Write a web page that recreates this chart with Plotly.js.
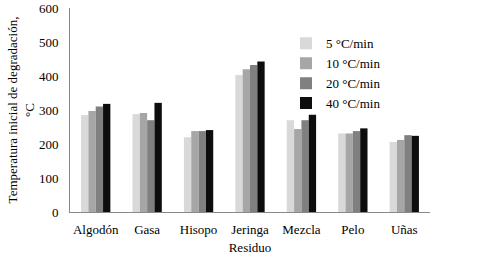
<!DOCTYPE html>
<html>
<head>
<meta charset="utf-8">
<script src="https://cdn.plot.ly/plotly-3.0.1.min.js"></script>
<style>html,body{margin:0;padding:0;background:#fff;}#chart{width:479px;height:257px;}</style>
</head>
<body>
<div id="chart"></div>
<script>
var categories = ["Algodón", "Gasa", "Hisopo", "Jeringa", "Mezcla", "Pelo", "Uñas"];
var seriesNames = ["5 °C/min", "10 °C/min", "20 °C/min", "40 °C/min"];
var rate5  = [285, 288, 220, 403, 270, 231, 206];
var rate10 = [297, 291, 238, 420, 244, 231, 212];
var rate20 = [310, 270, 238, 432, 270, 238, 226];
var rate40 = [318, 321, 241, 443, 286, 246, 224];
var yTicks = [0, 100, 200, 300, 400, 500, 600];

var colors = ["#d9d9d9", "#a6a6a6", "#808080", "#0d0d0d"];
var values = [rate5, rate10, rate20, rate40];
var traces = values.map(function (v, i) {
  return {
    type: "bar",
    x: categories,
    y: v,
    name: seriesNames[i],
    marker: { color: colors[i], line: { width: 0 } }
  };
});

var fam = '"Liberation Serif", "Times New Roman", serif';
var font = { family: fam, size: 13, color: "#000" };
var layout = {
  width: 479,
  height: 257,
  margin: { l: 70, r: 49, t: 8, b: 45 },
  paper_bgcolor: "#fff",
  plot_bgcolor: "#fff",
  font: font,
  barmode: "group",
  bargap: 0.43,
  bargroupgap: 0,
  showlegend: true,
  legend: {
    x: 0.6, y: 0.9, xanchor: "left", yanchor: "top",
    font: { family: fam, size: 13, color: "#000" }, bgcolor: "rgba(0,0,0,0)",
    itemwidth: 30, tracegroupgap: 0
  },
  xaxis: {
    title: { text: "Residuo", font: font, standoff: 7 },
    showline: true, linecolor: "#888", linewidth: 1,
    ticks: "", showgrid: false, zeroline: false,
    ticklabelstandoff: 5,
    tickfont: font
  },
  yaxis: {
    title: { text: "Temperatura inicial de degradación,<br>°C", font: font, standoff: 1 },
    range: [0, 600],
    tickvals: yTicks,
    showline: true, linecolor: "#888", linewidth: 1,
    ticks: "", showgrid: false, zeroline: false,
    ticklabelstandoff: 8,
    tickfont: font
  }
};

Plotly.newPlot("chart", traces, layout, { displayModeBar: false, staticPlot: true });
</script>
</body>
</html>
